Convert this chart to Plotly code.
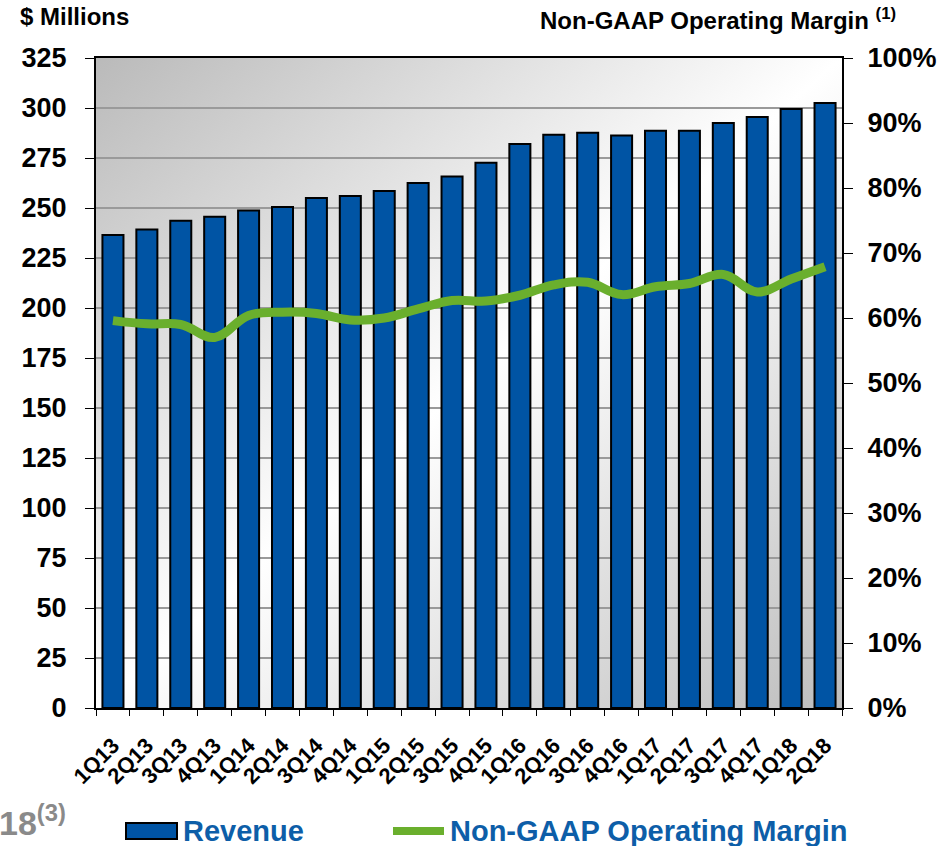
import base64
import plotly.graph_objects as go

quarters = ["1Q13", "2Q13", "3Q13", "4Q13", "1Q14", "2Q14", "3Q14", "4Q14",
            "1Q15", "2Q15", "3Q15", "4Q15", "1Q16", "2Q16", "3Q16", "4Q16",
            "1Q17", "2Q17", "3Q17", "4Q17", "1Q18", "2Q18"]
revenue = [236.5, 239.3, 243.6, 245.6, 248.8, 250.5, 255.0, 256.0,
           258.5, 262.5, 265.8, 272.6, 282.0, 286.6, 287.6, 286.3,
           288.6, 288.6, 292.5, 295.5, 299.5, 302.5]
op_margin = [0.596, 0.591, 0.590, 0.570, 0.604, 0.609, 0.607, 0.597,
             0.600, 0.614, 0.627, 0.626, 0.635, 0.651, 0.655, 0.636,
             0.648, 0.653, 0.667, 0.640, 0.660, 0.679]
left_ticks = list(range(0, 326, 25))

FONT = "Liberation Sans, Arial, sans-serif"
BLUE = "#0054A4"
GREEN = "#6AAF2D"
TEXT_BLUE = "#0D5EA8"

W, H = 948, 846
L, R, T, B = 96, 106, 58, 138
PW, PH = W - L - R, H - T - B


def px(x):
    return (x - L) / PW


def py(y):
    return (T + PH - y) / PH


svg = ('<svg xmlns="http://www.w3.org/2000/svg" width="746" height="650" '
       'preserveAspectRatio="none"><defs><linearGradient id="g" x1="0" y1="0" '
       'x2="1" y2="1"><stop offset="0" stop-color="#bababa"/>'
       '<stop offset="0.5" stop-color="#ffffff"/><stop offset="1" stop-color="#bdbdbd"/>'
       '</linearGradient></defs><rect width="746" height="650" fill="url(#g)"/></svg>')
svg_uri = "data:image/svg+xml;base64," + base64.b64encode(svg.encode()).decode()

fig = go.Figure()
fig.add_trace(go.Bar(
    x=quarters, y=revenue, name="Revenue",
    marker=dict(color=BLUE, line=dict(color="black", width=2)),
    width=0.62, yaxis="y",
))
fig.add_trace(go.Scatter(
    x=quarters, y=op_margin, name="Non-GAAP Operating Margin",
    mode="lines", line=dict(color=GREEN, width=9, shape="spline", smoothing=1.1),
    yaxis="y2",
))

fig.update_layout(
    width=W, height=H,
    margin=dict(l=L, r=R, t=T, b=B),
    paper_bgcolor="white",
    plot_bgcolor="rgba(0,0,0,0)",
    showlegend=False,
    font=dict(family=FONT, color="black"),
    images=[dict(source=svg_uri, xref="paper", yref="paper", x=0, y=1,
                 sizex=1, sizey=1, sizing="stretch", layer="below",
                 xanchor="left", yanchor="top")],
    xaxis=dict(
        type="category", showgrid=False, showline=True, linecolor="black",
        linewidth=2, mirror=True, ticks="outside", tickson="boundaries",
        ticklen=6, tickcolor="black", tickangle=-45, ticklabelstandoff=14,
        tickfont=dict(family=FONT, size=22, weight="bold", color="black"),
        range=[-0.5, len(quarters) - 0.5], automargin=False,
    ),
    yaxis=dict(
        range=[0, 325], tickvals=left_ticks, showgrid=True,
        gridcolor="#9a9a9a", gridwidth=1.5, showline=True, linecolor="black",
        linewidth=2, ticks="outside", ticklen=9, tickcolor="black",
        ticklabelstandoff=13,
        tickfont=dict(family=FONT, size=27, weight="bold", color="black"),
        zeroline=False, automargin=False,
    ),
    yaxis2=dict(
        range=[0, 1], dtick=0.1, tickformat=".0%", overlaying="y", side="right",
        showgrid=False, showline=True, linecolor="black", linewidth=2,
        ticks="outside", ticklen=9, tickcolor="black", ticklabelstandoff=9,
        tickfont=dict(family=FONT, size=27, weight="bold", color="black"),
        zeroline=False, automargin=False,
    ),
    bargap=0.38,
)

annotations = [
    dict(text="$ Millions", x=px(18), y=py(16), xanchor="left", yanchor="middle",
         font=dict(family=FONT, size=24, weight="bold", color="black")),
    dict(text="Non-GAAP Operating Margin <sup>(1)</sup>", x=px(898), y=py(19),
         xanchor="right", yanchor="middle",
         font=dict(family=FONT, size=24, weight="bold", color="black")),
    dict(text="18<sup>(3)</sup>", x=px(-3), y=py(820), xanchor="left", yanchor="middle",
         font=dict(family=FONT, size=34, weight="bold", color="#8a8a8a")),
    dict(text="Revenue", x=px(181), y=py(831), xanchor="left", yanchor="middle",
         font=dict(family=FONT, size=29, weight="bold", color=TEXT_BLUE)),
    dict(text="Non-GAAP Operating Margin", x=px(448), y=py(831), xanchor="left",
         yanchor="middle",
         font=dict(family=FONT, size=29, weight="bold", color=TEXT_BLUE)),
]
for a in annotations:
    a.update(xref="paper", yref="paper", showarrow=False)
fig.update_layout(annotations=annotations)

fig.add_shape(type="rect", xref="paper", yref="paper",
              x0=px(126), x1=px(177), y0=py(839), y1=py(823),
              fillcolor=BLUE, line=dict(color="black", width=2))
fig.add_shape(type="line", xref="paper", yref="paper",
              x0=px(393), x1=px(444), y0=py(831), y1=py(831),
              line=dict(color=GREEN, width=8))

fig.write_html("out.html", config={"displayModeBar": False},
               post_script="document.body.style.margin='0';document.body.style.overflow='hidden';")
